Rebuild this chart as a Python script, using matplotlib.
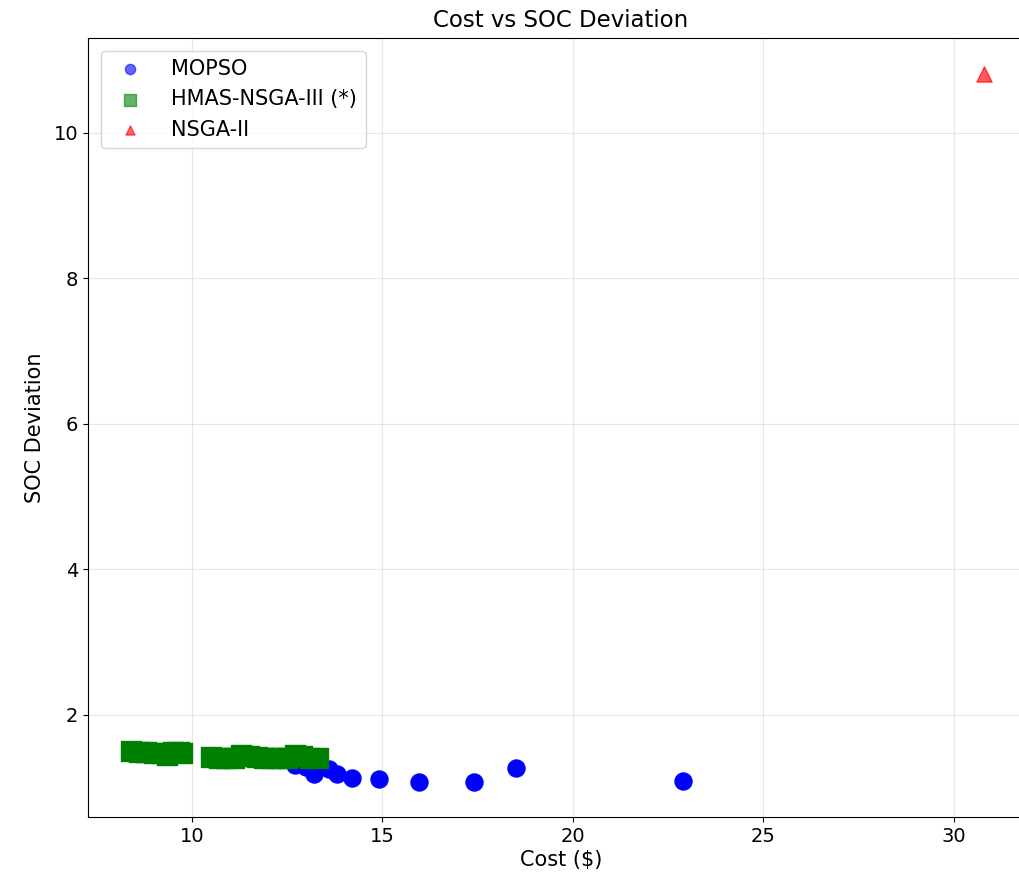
import matplotlib
matplotlib.use('Agg')
from matplotlib import pyplot as plt

# MOPSO results
mopso_cost = [12.7, 13.0, 13.2, 13.6, 13.8, 14.2, 14.9, 15.95, 17.4, 18.5, 22.9]
mopso_soc = [1.31, 1.28, 1.19, 1.25, 1.18, 1.13, 1.12, 1.08, 1.08, 1.26, 1.09]

# HMAS-NSGA-III results
hmas_cost = [8.4, 8.6, 8.8, 9.0, 9.2, 9.35, 9.5, 9.65, 9.75,
             10.5, 10.7, 10.9, 11.1, 11.3, 11.5, 11.7, 11.9, 12.1,
             12.3, 12.5, 12.7, 12.9, 13.1, 13.3]
hmas_soc = [1.50, 1.49, 1.48, 1.47, 1.47, 1.45, 1.48, 1.49, 1.47,
            1.42, 1.41, 1.40, 1.41, 1.44, 1.43, 1.42, 1.41, 1.40,
            1.40, 1.41, 1.44, 1.43, 1.41, 1.40]

# NSGA-II results
nsga2_cost = [30.8]
nsga2_soc = [10.8]

fig = plt.figure(figsize=(10.2, 8.86), dpi=100)
ax = fig.add_axes([0.0863, 0.078, 0.927, 0.879])

ax.scatter(mopso_cost, mopso_soc, c='blue', marker='o', s=150, label='MOPSO', zorder=2)
ax.scatter(hmas_cost, hmas_soc, c='green', marker='s', s=220, label='HMAS-NSGA-III (*)', zorder=3)
ax.scatter(nsga2_cost, nsga2_soc, c='red', marker='^', s=120, alpha=0.65, label='NSGA-II', zorder=2)

ax.set_xlim(7.27, 32.1)
ax.set_ylim(0.594, 11.3)
ax.set_xticks([10, 15, 20, 25, 30])
ax.set_yticks([2, 4, 6, 8, 10])
ax.tick_params(labelsize=14)
ax.grid(True, alpha=0.3)
ax.set_title('Cost vs SOC Deviation', fontsize=16.5, pad=8)
ax.set_xlabel('Cost ($)', fontsize=15, labelpad=3)
ax.set_ylabel('SOC Deviation', fontsize=15, labelpad=6)

leg = ax.legend(loc='upper left', fontsize=15, markerscale=0.6,
                borderaxespad=0.6, handletextpad=1.0)
for h in leg.legend_handles:
    h.set_alpha(0.6)

plt.savefig('out.png', dpi=100)
